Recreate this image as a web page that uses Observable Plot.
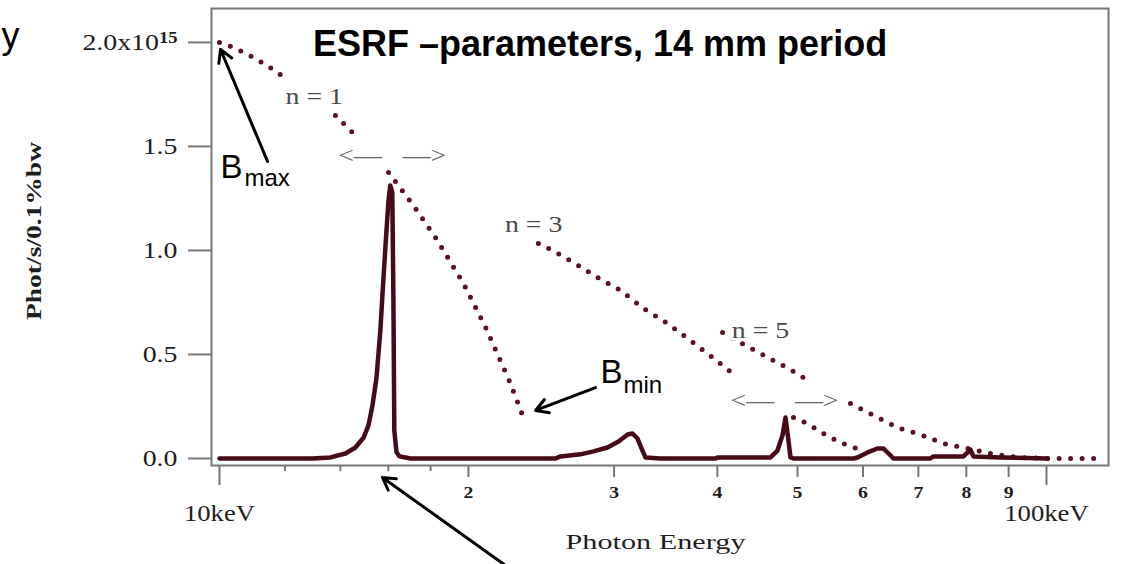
<!DOCTYPE html>
<html>
<head>
<meta charset="utf-8">
<script src="https://cdn.jsdelivr.net/npm/d3@7"></script>
<script src="https://cdn.jsdelivr.net/npm/@observablehq/plot@0.6"></script>
<style>
  html, body { margin: 0; padding: 0; background: #fff; }
  #chart { width: 1122px; height: 564px; overflow: hidden; }
</style>
</head>
<body>
<div id="chart"></div>
<script>
// Undulator spectrum, 14 mm period, ESRF parameters.
// Energies in keV, flux in units of 10^15 phot/s/0.1%bw.

// Spectrum at one gap setting (solid line)
const spectrumEnergy = [10.00, 12.95, 13.62, 14.20, 14.60, 14.94, 15.14, 15.31, 15.48, 15.65, 15.78, 15.92, 16.01, 16.09, 16.18, 16.23, 16.27, 16.37, 16.51, 17.02,
  25.48, 25.84, 27.32, 28.33, 29.45, 30.38, 31.15, 31.58, 32.02, 32.47, 32.74, 34.14, 39.80, 40.02, 46.38, 47.28, 47.95, 48.35, 48.75, 49.03, 49.44,
  58.43, 59.09, 60.76, 62.46, 63.52, 64.42, 65.31, 72.39, 73.01, 79.36, 80.92, 81.59, 87.97, 100.3];
const spectrumFlux = [0, 0, 0.005, 0.024, 0.053, 0.101, 0.159, 0.255, 0.385, 0.615, 0.856, 1.096, 1.240, 1.312, 1.279, 0.760, 0.135, 0.030, 0.010, 0,
  0, 0.010, 0.020, 0.034, 0.053, 0.082, 0.115, 0.120, 0.096, 0.038, 0.005, 0, 0, 0.005, 0.005, 0.038, 0.111, 0.197, 0.087, 0.005, 0,
  0, 0.005, 0.029, 0.048, 0.048, 0.024, 0, 0, 0.010, 0.010, 0.043, 0.010, 0.005, 0];

// Tuning curves of the harmonics (dotted); null leaves a gap where a label sits
const n1Energy = [10.00, 10.40, 11.05, 11.75, 12.08, null, 13.81, 14.73, null, 16.01, 17.16, 18.25, 19.73, 20.98, 22.48, 23.25];
const n1Flux   = [2.000, 1.976, 1.923, 1.856, 1.817, null, 1.649, 1.538, null, 1.375, 1.216, 1.062, 0.841, 0.630, 0.361, 0.207];

const n3Energy = [24.30, 25.27, 26.80, 28.65, 30.54, 32.57, 34.82, 37.12, 39.46, 42.31, null, 49.44, 51.40, 53.00, 54.50, 56.35, 58.43, 60.41];
const n3Flux   = [1.034, 1.000, 0.942, 0.870, 0.808, 0.721, 0.649, 0.567, 0.486, 0.389, null, 0.197, 0.168, 0.135, 0.106, 0.077, 0.053, 0.038];

const n5Energy = [40.58, 43.25, 45.11, 46.77, 48.75, 50.83, null, 57.94, 61.78, 66.04, 70.40, 75.07, 80.25, 85.56, 92.23, 100.3, 114.6];
const n5Flux   = [0.606, 0.543, 0.505, 0.471, 0.433, 0.389, null, 0.264, 0.207, 0.149, 0.115, 0.072, 0.048, 0.024, 0.005, 0, 0];

// Axis ticks
const yTicks = [0, 0.5, 1, 1.5, 2];
const decadeTicks = [10, 100];
const decadeLabels = ["10keV", "100keV"];
const harmonicTicks = [20, 30, 40, 50, 60, 70, 80, 90];
const minorTicks = [12, 14, 16, 18];

// Labels on the curves
const curveLabelText   = ["n = 1", "n = 3", "n = 5"];
const curveLabelEnergy = [13.02, 23.98, 45.11];
const curveLabelFlux   = [1.740, 1.125, 0.615];

const rangeLabelText   = ["<—   —>", "<—   —>"];
const rangeLabelEnergy = [16.18, 48.23];
const rangeLabelFlux   = [1.457, 0.279];

// Field labels B_max / B_min (letter + subscript)
const fieldLetter    = ["B", "B"];
const fieldSub       = ["max", "min"];
const fieldEnergy    = [10.03, 28.89];
const fieldFlux      = [1.346, 0.361];
const fieldSubEnergy = [10.72, 30.80];
const fieldSubFlux   = [1.308, 0.317];

// Pointer arrows: tail (x1, y1) to head (x2, y2)
const arrowX1 = [11.43, 28.49, 22.17];
const arrowY1 = [1.428, 0.341, -0.514];
const arrowX2 = [10.03, 24.11, 15.74];
const arrowY2 = [1.966, 0.231, -0.091];

const titleText = "ESRF –parameters, 14 mm period";
const xLabel = "Photon Energy";
const yLabel = "Phot/s/0.1%bw";

// Tables
const spectrum = spectrumEnergy.map((e, i) => ({energy: e, flux: spectrumFlux[i]}));
const tuning = [
  ...n1Energy.map((e, i) => ({harmonic: 1, energy: e, flux: n1Flux[i]})),
  ...n3Energy.map((e, i) => ({harmonic: 3, energy: e, flux: n3Flux[i]})),
  ...n5Energy.map((e, i) => ({harmonic: 5, energy: e, flux: n5Flux[i]}))
];
const curveLabels = curveLabelText.map((t, i) => ({text: t, energy: curveLabelEnergy[i], flux: curveLabelFlux[i]}));
const rangeLabels = rangeLabelText.map((t, i) => ({text: t, energy: rangeLabelEnergy[i], flux: rangeLabelFlux[i]}));
const fields = fieldLetter.map((t, i) => ({text: t, sub: fieldSub[i], energy: fieldEnergy[i], flux: fieldFlux[i], subEnergy: fieldSubEnergy[i], subFlux: fieldSubFlux[i]}));
const arrows = arrowX1.map((x, i) => ({x1: x, y1: arrowY1[i], x2: arrowX2[i], y2: arrowY2[i]}));

const SERIF = "'Liberation Serif', 'Times New Roman', serif";
const SANS = "'Liberation Sans', Arial, sans-serif";
const AXIS_GRAY = "#777777";
const INK = "#1e1e1e";

const plot = Plot.plot({
  width: 1122,
  height: 564,
  marginLeft: 211,
  marginRight: 14,
  marginTop: 8,
  marginBottom: 99,
  style: {background: "white"},
  x: {type: "log", domain: [9.78, 118.85]},
  y: {domain: [-0.0337, 2.163]},
  marks: [
    Plot.frame({stroke: AXIS_GRAY, strokeWidth: 2}),
    Plot.axisY(yTicks, {
      tickSize: 23, tickPadding: 11, stroke: AXIS_GRAY, strokeWidth: 2,
      fill: INK, fontSize: 24, fontFamily: SERIF, label: null,
      tickFormat: d => d === 2 ? "2.0x10" : d.toFixed(1)
    }),
    Plot.axisX(decadeTicks, {
      tickSize: 20, tickPadding: 19, stroke: AXIS_GRAY, strokeWidth: 2,
      fill: INK, fontSize: 23, fontFamily: SERIF, label: null,
      tickFormat: d => decadeLabels[decadeTicks.indexOf(d)]
    }),
    Plot.axisX(harmonicTicks, {
      tickSize: 12, tickPadding: 8, stroke: AXIS_GRAY, strokeWidth: 2,
      fill: INK, fontSize: 17, fontWeight: "bold", fontFamily: SERIF, label: null,
      tickFormat: d => String(d / 10)
    }),
    Plot.axisX(minorTicks, {
      tickSize: 6, stroke: AXIS_GRAY, strokeWidth: 2, label: null,
      tickFormat: () => ""
    }),
    // harmonic tuning curves
    Plot.line(tuning, {
      x: "energy", y: "flux", z: "harmonic",
      stroke: "#5a1222", strokeWidth: 5, strokeLinecap: "round",
      strokeDasharray: "0 11.5"
    }),
    // spectrum
    Plot.line(spectrum, {
      x: "energy", y: "flux",
      stroke: "#470a17", strokeWidth: 4.5, strokeLinejoin: "round"
    }),
    Plot.text(curveLabels, {
      x: "energy", y: "flux", text: "text",
      fontSize: 24, fontFamily: SERIF, fill: "#4a4a4a",
      stroke: "white", strokeWidth: 5
    }),
    Plot.text(rangeLabels, {
      x: "energy", y: "flux", text: "text",
      fontSize: 24, fontFamily: SERIF, fill: "#666666"
    }),
    Plot.text(fields, {
      x: "energy", y: "flux", text: "text",
      textAnchor: "start", lineAnchor: "bottom",
      fontSize: 33, fontFamily: SANS, fill: "black"
    }),
    Plot.text(fields, {
      x: "subEnergy", y: "subFlux", text: "sub",
      textAnchor: "start", lineAnchor: "bottom",
      fontSize: 24, fontFamily: SANS, fill: "black"
    }),
    Plot.arrow(arrows, {
      x1: "x1", y1: "y1", x2: "x2", y2: "y2",
      stroke: "black", strokeWidth: 3, headLength: 7
    }),
    Plot.text([titleText], {
      frameAnchor: "top", dx: -60, dy: 47, lineAnchor: "bottom",
      fontSize: 36, fontWeight: "bold", fontFamily: SANS, fill: "black"
    }),
    Plot.text(["y"], {
      frameAnchor: "top-left", dx: -192, dy: 39, textAnchor: "end", lineAnchor: "bottom",
      fontSize: 36, fontFamily: SANS, fill: "black"
    }),
    Plot.text([yLabel], {
      frameAnchor: "left", dx: -177, dy: 83, rotate: -90, textAnchor: "start",
      fontSize: 21, fontWeight: "bold", fontFamily: SERIF, fill: INK
    }),
    Plot.text([xLabel], {
      frameAnchor: "bottom", dx: -4.5, dy: 83,
      fontSize: 22, fontFamily: SERIF, fill: INK
    })
  ]
});

document.getElementById("chart").append(plot);

const svg = d3.select(plot);

// exponent of the top y tick
svg.selectAll("text")
  .filter(function () { return this.textContent === "2.0x10"; })
  .append("tspan")
  .attr("dy", "-0.45em")
  .attr("font-size", 16)
  .attr("font-weight", "bold")
  .text("15");

// the serif lettering is set wide
const fixedLength = {[xLabel]: 180, [yLabel]: 178};
svg.selectAll("text").each(function () {
  const ff = getComputedStyle(this).fontFamily;
  if (!/Liberation Serif/.test(ff)) return;
  if (!this.textContent) return;
  const len = fixedLength[this.textContent] ?? this.getComputedTextLength() * 1.16;
  this.setAttribute("textLength", len);
  this.setAttribute("lengthAdjust", "spacingAndGlyphs");
});
</script>
</body>
</html>
